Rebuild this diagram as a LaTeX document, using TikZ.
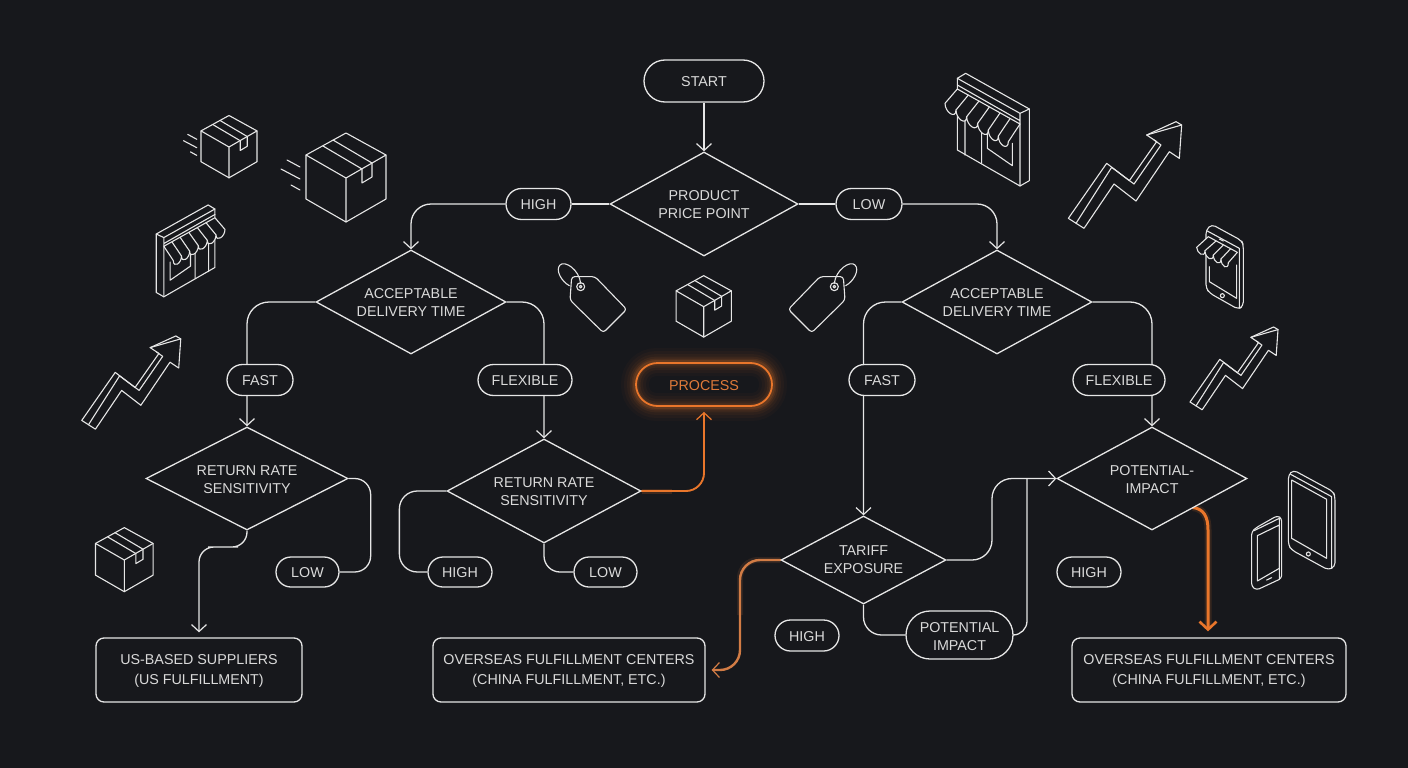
\documentclass[tikz,border=0pt]{standalone}
\usepackage{fontspec}
\setmainfont{Liberation Sans}
\usetikzlibrary{arrows.meta,shapes.geometric,shapes.misc,backgrounds}
\definecolor{bgc}{HTML}{17181C}
\definecolor{ink}{HTML}{E6E6E6}
\definecolor{txt}{HTML}{DADADA}
\definecolor{org}{HTML}{E9762B}
\definecolor{orgb}{HTML}{D27C45}
\definecolor{orgt}{HTML}{E07A3A}
\newcommand{\lowa}{\rule{0pt}{12.3pt}}
\newcommand{\lowb}{\rule{0pt}{13.3pt}}
\newcommand{\lowc}{\rule{0pt}{11.3pt}}
\tikzset{
  labeltext/.style={font=\fontsize{14.3}{18}\selectfont,text=txt,align=center,inner sep=0pt,execute at begin node={\rule{0pt}{11.5pt}}},
  dia/.style={labeltext,shape=diamond,aspect=1.83,draw=ink,line width=1.3pt,line join=miter,fill=bgc},
  pill/.style={labeltext,shape=rounded rectangle,draw=ink,line width=1.3pt,fill=bgc},
  fbox/.style={labeltext,font=\fontsize{14.3}{20}\selectfont,shape=rectangle,rounded corners=8pt,draw=ink,line width=1.3pt,fill=bgc},
  tipv/.style={-{Straight Barb[length=7pt,width=15pt,line width=1.2pt]}},
  conn/.style={draw=ink,line width=1.3pt,tipv},
  plain/.style={draw=ink,line width=1.3pt},
  hot/.style={draw=org,line cap=round},
  ico/.style={draw=ink,line width=1.1pt,line join=round,line cap=round},
  boxicon/.pic={
    \draw[ico] (0,-45)--(40,-23)--(40,21)--(0,44)--(-40,21)--(-40,-23)--cycle;
    \draw[ico] (-40,-23)--(0,0)--(40,-23) (0,0)--(0,44);
    \draw[ico] (-23,-32)--(16,-9)--(16,5)--(26,-1)--(26,-15)--(-13,-38);
  },
  speedicon/.pic={
    \draw[ico] (-59,-18)--(-46,-11) (-65,-9)--(-46,1) (-55,7)--(-46,12);
  },
  storeicon/.pic={
    \draw[ico] (82,55)--(107,40)--(298,147)--(298,362)--(270,378)--(82,270)--cycle;
    \draw[ico] (82,55)--(270,160)--(298,147) (270,160)--(270,378) (82,75)--(270,182);
    \draw[ico] (105,170)--(105,285) (155,200)--(155,310) (172,218)--(172,265)--(247,317)--(247,250);
    \filldraw[ico,fill=bgc] (82,87)--(270,192)--(235,245)
      .. controls (235,273) and (205,256) .. (205,228)
      .. controls (205,256) and (175,238) .. (175,210)
      .. controls (175,238) and (143,218) .. (143,190)
      .. controls (143,218) and (110,198) .. (110,170)
      .. controls (110,198) and (78,178) .. (78,150)
      .. controls (78,178) and (45,158) .. (45,130)--cycle;
    \draw[ico] (115,105)--(78,150) (147,123)--(110,170) (178,141)--(143,190) (210,159)--(175,210) (240,176)--(205,228);
  },
  arrowicon/.pic={
    \draw[ico] (650,225)--(755,195)--(748,295)--(718,275)--(618,423)--(552,372)--(462,505)--(415,475)--(530,310)--(598,362)--(680,245)--cycle;
    \draw[ico] (650,225)--(738,185)--(755,195);
    \draw[ico] (438,490)--(545,322)--(612,372)--(693,255)--(672,240);
  },
  tagicon/.pic={
    \draw[ico,rounded corners=3pt] (95,80)--(165,80)--(260,178)--(190,248)--(90,150)--cycle;
    \draw[ico] (122,110) circle (12);
    \draw[ico] (122,100) .. controls (118,60) and (75,30) .. (60,45)
      .. controls (45,60) and (65,95) .. (88,107);
    \draw[ico] (122,110) circle (4);
  },
  tableticon/.pic={
    \draw[ico,rounded corners=4pt] (745,165)--(760,150)--(880,215)--(885,230)--(885,440)--(865,450)--(755,390)--(745,375)--cycle;
    \draw[ico] (752,163)--(875,230)--(875,445);
    \draw[ico] (755,180)--(860,238)--(860,415)--(755,355)--cycle;
    \draw[ico] (805,402) circle (6);
    \draw[ico,rounded corners=3pt] (635,335)--(650,322)--(712,287)--(725,295)--(725,475)--(650,510)--(635,500)--cycle;
    \draw[ico] (642,332)--(718,295)--(718,478);
    \draw[ico] (652,347)--(718,315)--(718,445)--(652,483)--cycle;
    \draw[ico] (680,480)--(695,473);
  },
  phoneicon/.pic={
    \draw[ico,rounded corners=4pt] (845,493)--(935,542)--(940,555)--(940,738)--(925,748)--(840,700)--(828,685)--(828,510)--cycle;
    \draw[ico] (832,513)--(928,565)--(928,745);
    \draw[ico] (838,620)--(838,665)--(920,715)--(920,615);
    \draw[ico] (877,707) circle (6);
    \draw[ico] (868,537)--(880,543);
    \filldraw[ico,fill=bgc] (835,530)--(922,577)--(895,608)
      .. controls (895,632) and (873,620) .. (873,597)
      .. controls (873,620) and (850,607) .. (850,585)
      .. controls (850,607) and (825,595) .. (825,572)
      .. controls (825,595) and (800,580) .. (800,562)--cycle;
    \draw[ico] (858,543)--(825,572) (880,555)--(850,585) (902,566)--(873,597);
  }
}
\begin{document}
\begin{tikzpicture}[x=1pt,y=-1pt]
\useasboundingbox (0,0) rectangle (1408,768);
% flow nodes
\node[pill,minimum width=120pt,minimum height=42pt] (start) at (704,81) {START};
\node[dia,minimum width=188pt,minimum height=104pt] (price) at (704,204) {\lowc PRODUCT\\PRICE POINT};
\node[pill,minimum width=65pt,minimum height=31pt] (hi1) at (538.5,204) {HIGH};
\node[pill,minimum width=66pt,minimum height=31pt] (lo1) at (869,204) {LOW};
\node[dia,minimum width=190pt,minimum height=104pt] (dl) at (411,302) {\lowc ACCEPTABLE\\DELIVERY TIME};
\node[dia,minimum width=190pt,minimum height=104pt] (dr) at (997,302) {\lowc ACCEPTABLE\\DELIVERY TIME};
\node[pill,minimum width=66pt,minimum height=31pt] (fastl) at (260,380) {FAST};
\node[pill,minimum width=94pt,minimum height=31pt] (flexl) at (525,380) {FLEXIBLE};
\node[pill,minimum width=66pt,minimum height=31pt] (fastr) at (882,380) {FAST};
\node[pill,minimum width=92pt,minimum height=31pt] (flexr) at (1119,380) {FLEXIBLE};
\node[labeltext,shape=rounded rectangle,draw=org,line width=1.8pt,text=orgt,minimum width=136pt,minimum height=43pt] (proc) at (704,384.5) {PROCESS};
\node[dia,aspect=1.96,minimum width=202pt,minimum height=103pt] (rl) at (247,478.5) {\lowc RETURN RATE\\SENSITIVITY};
\node[dia,aspect=1.87,minimum width=194pt,minimum height=104pt] (rm) at (544,491) {\lowc RETURN RATE\\SENSITIVITY};
\node[dia,aspect=1.875,minimum width=165pt,minimum height=88pt] (tar) at (863.5,560) {TARIFF\\EXPOSURE};
\node[dia,aspect=1.845,minimum width=190pt,minimum height=103pt] (pot) at (1152,478.5) {\lowa POTENTIAL-\\IMPACT};
\node[pill,minimum width=63pt,minimum height=30pt] (lo2) at (307.5,572) {LOW};
\node[pill,minimum width=64pt,minimum height=30pt] (hi2) at (460,572) {HIGH};
\node[pill,minimum width=63pt,minimum height=30pt] (lo3) at (605.5,572) {LOW};
\node[pill,minimum width=64pt,minimum height=30pt] (hi3) at (1089,572) {HIGH};
\node[pill,minimum width=64pt,minimum height=31pt] (hi4) at (807,635.5) {HIGH};
\node[pill,minimum width=107pt,minimum height=48pt] (pimp) at (959.5,635) {\lowb POTENTIAL\\IMPACT};
\node[fbox,minimum width=206pt,minimum height=64pt] (us) at (199,670) {\lowa US-BASED SUPPLIERS\\(US FULFILLMENT)};
\node[fbox,minimum width=272pt,minimum height=64pt] (ovm) at (569,670) {\lowa OVERSEAS FULFILLMENT CENTERS\\(CHINA FULFILLMENT, ETC.)};
\node[fbox,minimum width=274pt,minimum height=64pt] (ovr) at (1209,670) {\lowa OVERSEAS FULFILLMENT CENTERS\\(CHINA FULFILLMENT, ETC.)};
% free-end helpers
\coordinate (jogt) at (992,519);
\coordinate (merge) at (1027,478.5);
\coordinate (jogb) at (223,547);
\coordinate (jogo) at (740,615);
\coordinate (pstart) at (1193,507.5);
\coordinate (pbend) at (1208,530);
% connectors under nodes
\begin{pgfonlayer}{background}
\fill[bgc] (0,0) rectangle (1408,768);
\foreach \w/\o in {28/.03,22/.04,16/.05,11/.07,7/.10,4/.14}{
  \draw[org,line width=\w pt,opacity=\o,rounded corners=21pt] (proc.west |- proc.south) rectangle (proc.east |- proc.north);
}
\draw[conn] (start.south) -- (price.north);
\draw[plain] (price.west) -- (hi1.east);
\draw[plain] (price.east) -- (lo1.west);
\draw[conn,rounded corners=20pt] (hi1.west) -| (dl.north);
\draw[conn,rounded corners=20pt] (lo1.east) -| (dr.north);
\draw[conn,rounded corners=22pt] (dl.west) -| (rl.north);
\draw[conn,rounded corners=22pt] (dl.east) -| (rm.north);
\draw[conn,rounded corners=22pt] (dr.west) -| (tar.north);
\draw[conn,rounded corners=22pt] (dr.east) -| (pot.north);
\draw[plain,rounded corners=16pt] (rl.east) -| ([xshift=22pt]rl.east |- lo2.east) -- (lo2.east);
\draw[conn,shorten >=5pt,rounded corners=15pt] (rl.south) |- (jogb) -| (us.north);
\draw[plain,rounded corners=18pt] (rm.west) -| ([xshift=-47pt]rm.west |- hi2.west) -- (hi2.west);
\draw[plain,rounded corners=16pt] (rm.south) |- (lo3.west);
\draw[plain,rounded corners=18pt] (tar.south) |- (pimp.west);
\draw[conn,rounded corners=20pt] (tar.east) -| (jogt) |- (pot.west);
\draw[plain,rounded corners=14pt] (pimp.east) -| (merge);
% orange flows
\draw[org,line width=5pt,opacity=.18] (rm.east) -- ++(30,0);
\draw[hot,line width=1.9pt,tipv,shorten >=5pt,rounded corners=18pt] (rm.east) -| (proc.south);
\draw[orgb,line width=6pt,opacity=.13,rounded corners=18pt] (tar.west) -| (jogo);
\draw[hot,draw=orgb,line width=2.4pt,tipv,shorten >=6pt,rounded corners=20pt] (tar.west) -| (jogo) |- (ovm.east);
\draw[org,line width=7pt,opacity=.15] (pstart) .. controls (1204,509) and (1208,517) .. (pbend) -- (1208,628);
\draw[hot,line width=3pt,shorten >=6pt,-{Straight Barb[length=8pt,width=17pt,line width=2.6pt]}] (pstart) .. controls (1204,509) and (1208,517) .. (pbend) -- (ovr.north -| pbend);
\end{pgfonlayer}
% icons
\pic[scale=.7] at (229,147) {boxicon};
\pic[scale=.7] at (229,147) {speedicon};
\pic at (346,178) {boxicon};
\pic at (346,178) {speedicon};
\pic[scale=.69] at (703.7,306.7) {boxicon};
\pic[scale=.72] at (124.3,560) {boxicon};
\pic[scale=1/3] at (930,60) {storeicon};
\pic[xscale=-.2717,yscale=.2717] at (237.2,194.1) {storeicon};
\pic[scale=1/3] at (930,60) {arrowicon};
\pic[scale=.2912] at (-39.1,282.1) {arrowicon};
\pic[scale=.2588] at (1082.6,279.1) {arrowicon};
\pic[scale=1/3] at (540,250) {tagicon};
\pic[xscale=-1/3,yscale=1/3] at (875,250) {tagicon};
\pic[scale=1/3] at (1040,420) {tableticon};
\pic[scale=1/3] at (930,60) {phoneicon};
\end{tikzpicture}
\end{document}
